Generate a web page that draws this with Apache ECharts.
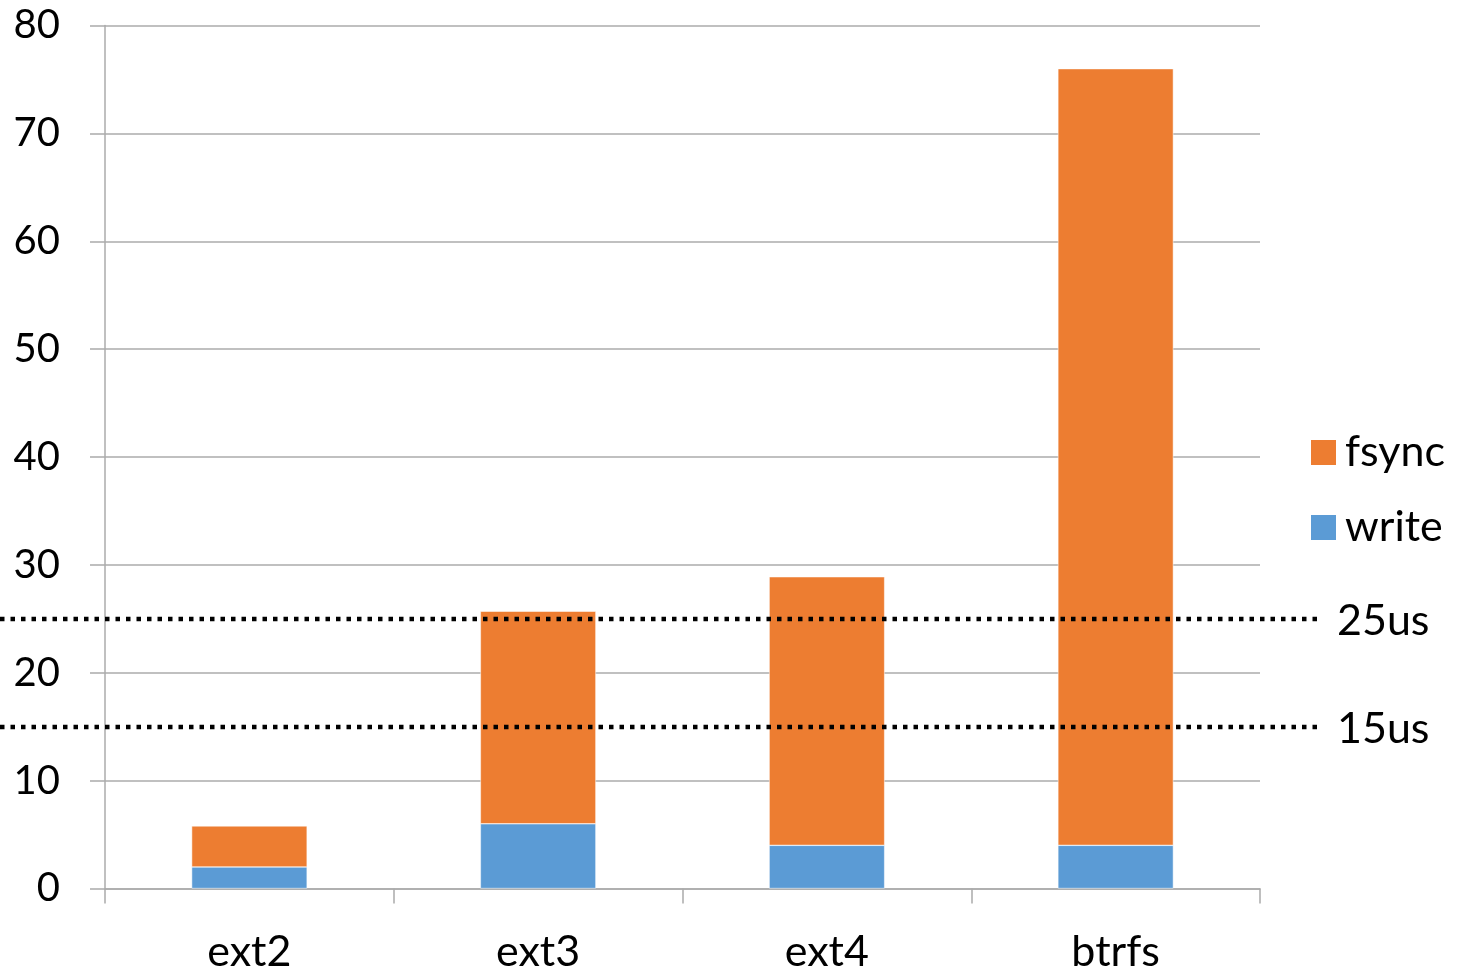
<!DOCTYPE html>
<html>
<head>
<meta charset="utf-8">
<script src="https://cdn.jsdelivr.net/npm/echarts@6/dist/echarts.min.js"></script>
<style>
  html, body { margin: 0; padding: 0; background: #ffffff; }
  #chart { width: 1466px; height: 971px; }
</style>
</head>
<body>
<div id="chart"></div>
<script>
// File systems compared
const categories = ['ext2', 'ext3', 'ext4', 'btrfs'];
// Latency split per call (stacked)
const writeValues = [2, 6, 4, 4];
const fsyncValues = [3.8, 19.7, 24.9, 72];
// Reference latency budgets drawn as dotted lines
const thresholdValues = [25, 15];
const thresholdLabels = ['25us', '15us'];

const FONT = 'Lato, "Open Sans", sans-serif';
const GRID_GRAY = '#ababab';
const chart = echarts.init(document.getElementById('chart'), null, { renderer: 'canvas' });

chart.setOption({
  animation: false,
  backgroundColor: '#ffffff',
  textStyle: { fontFamily: FONT },
  grid: {
    left: 105, right: 206, top: 25.5, bottom: 82.5,
    containLabel: false,
    outerBoundsMode: 'none'
  },
  legend: {
    orient: 'vertical',
    left: 1304,
    top: 426,
    itemWidth: 27,
    itemHeight: 27,
    itemGap: 32,
    icon: 'rect',
    data: ['fsync', 'write'],
    textStyle: { fontFamily: FONT, fontSize: 43, color: '#000000', padding: [0, 0, 0, 3] }
  },
  xAxis: {
    type: 'category',
    data: categories,
    boundaryGap: true,
    axisLine: { show: true, lineStyle: { color: GRID_GRAY, width: 1.5 } },
    axisTick: { show: true, length: 15, lineStyle: { color: GRID_GRAY, width: 1.5 } },
    axisLabel: { margin: 42, fontSize: 43, color: '#000000', fontFamily: FONT }
  },
  yAxis: {
    type: 'value',
    min: 0,
    max: 80,
    interval: 10,
    axisLine: { show: true, lineStyle: { color: GRID_GRAY, width: 1.5 } },
    axisTick: { show: true, length: 15, lineStyle: { color: GRID_GRAY, width: 1.5 } },
    splitLine: { show: true, lineStyle: { color: GRID_GRAY, width: 1.5 } },
    axisLabel: { margin: 45, fontSize: 40, color: '#000000', fontFamily: FONT }
  },
  series: [
    {
      name: 'write',
      type: 'bar',
      stack: 'latency',
      barWidth: '40%',
      data: writeValues,
      itemStyle: { color: '#5b9bd5', borderColor: '#ffffff', borderWidth: 0.5 }
    },
    {
      name: 'fsync',
      type: 'bar',
      stack: 'latency',
      barWidth: '40%',
      data: fsyncValues,
      itemStyle: { color: '#ed7d31', borderColor: '#ffffff', borderWidth: 0.5 }
    }
  ]
});

// Dotted budget lines span past the plot area, with their labels on the right
const graphics = [];
thresholdValues.forEach((v, i) => {
  const y = Math.round(chart.convertToPixel({ yAxisIndex: 0 }, v));
  graphics.push({
    type: 'line',
    z: 100,
    shape: { x1: 0, y1: y, x2: 1321, y2: y },
    style: { stroke: '#000000', lineWidth: 4.5, lineDash: [4.5, 6], lineCap: 'butt' }
  });
  graphics.push({
    type: 'text',
    z: 100,
    x: 1337,
    y: y + 2,
    style: {
      text: thresholdLabels[i],
      fontFamily: FONT,
      fontSize: 43,
      fill: '#000000',
      verticalAlign: 'middle'
    }
  });
});
chart.setOption({ graphic: graphics });
</script>
</body>
</html>
